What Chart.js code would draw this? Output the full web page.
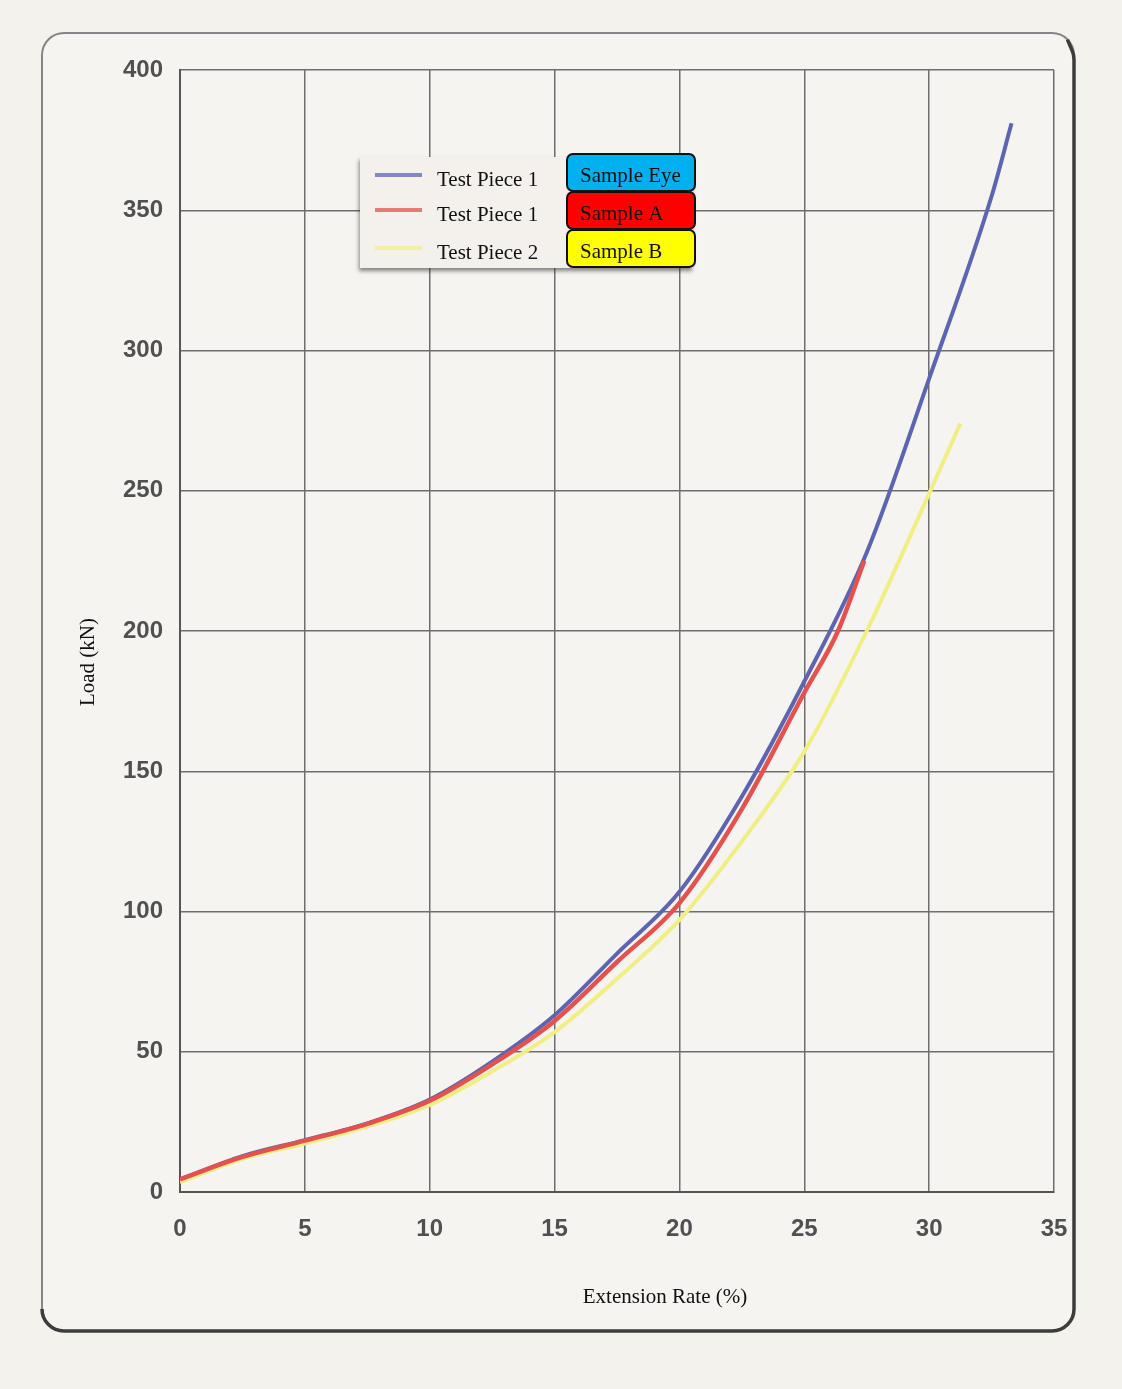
<!DOCTYPE html>
<html>
<head>
<meta charset="utf-8">
<script src="https://cdn.jsdelivr.net/npm/chart.js@4.4.1/dist/chart.umd.min.js"></script>
<style>
  html, body { margin: 0; padding: 0; background: #f3f2ed; }
  #wrap { position: relative; width: 1122px; height: 1389px; }
</style>
</head>
<body>
<div id="wrap"><canvas id="chart"></canvas></div>
<script>
// legend texts
const pieceLabels = ['Test Piece 1', 'Test Piece 1', 'Test Piece 2'];
const sampleNames = ['Sample Eye', 'Sample A', 'Sample B'];
const xTitle = 'Extension Rate (%)';
const yTitle = 'Load (kN)';

// Sample Eye (blue)
const eyeX = [0, 2.5, 5, 7.5, 10, 12.5, 15, 17.5, 20, 22.5, 25, 27.5, 30, 32.5, 33.3];
const eyeY = [4.5, 12.8, 18.5, 24.5, 33, 46.5, 63, 85, 107, 141, 182, 228, 290, 355, 381];

// Sample A (red)
const aX = [0, 2.5, 5, 7.5, 10, 12.5, 15, 17.5, 20, 22.5, 25, 26.35, 27.4];
const aY = [4.5, 12.5, 18.3, 24.3, 32.5, 45.5, 61, 82, 103, 136.5, 178, 200, 225];

// Sample B (yellow)
const bX = [0, 2.5, 5, 7.5, 10, 12.5, 15, 17.5, 20, 22.5, 25, 27.5, 30, 31.25];
const bY = [3.5, 11.8, 17.3, 23.3, 31, 43, 57, 76, 97, 125, 157, 200, 249, 274];

const lineColors = ['#5c65b2', '#e4524f', '#f1ee84'];
const sampleColors = ['#00b0f0', '#ff0000', '#ffff00'];

const toPts = (xs, ys) => xs.map((x, i) => ({ x: x, y: ys[i] }));

const serif = '21px "Liberation Serif", "DejaVu Serif", serif';

const paperPlugin = {
  id: 'paper',
  beforeDraw(chart) {
    const ctx = chart.ctx;
    const L = 42, T = 33, R = 1074, B = 1331, r = 22;
    ctx.save();
    ctx.fillStyle = '#f3f2ed';
    ctx.fillRect(0, 0, chart.width, chart.height);
    ctx.fillStyle = '#f5f4f0';
    ctx.beginPath();
    ctx.roundRect(L, T, R - L, B - T, r);
    ctx.fill();
    ctx.strokeStyle = '#858585';
    ctx.lineWidth = 2;
    ctx.stroke();
    // darker right / bottom edge
    ctx.beginPath();
    ctx.moveTo(R - r * 0.3, T + r * 0.3);
    ctx.arcTo(R, T + r, R, B, r);
    ctx.lineTo(R, B - r);
    ctx.arcTo(R, B, R - r, B, r);
    ctx.lineTo(L + r, B);
    ctx.arcTo(L, B, L, B - r, r);
    ctx.strokeStyle = '#3c3c3c';
    ctx.lineWidth = 3.5;
    ctx.stroke();
    ctx.restore();
  },
  afterDraw(chart) {
    const ctx = chart.ctx;
    ctx.save();
    // axis titles
    ctx.fillStyle = '#111';
    ctx.font = serif;
    ctx.textAlign = 'center';
    ctx.textBaseline = 'middle';
    ctx.fillText(xTitle, 665, 1297);
    ctx.translate(88, 662);
    ctx.rotate(-Math.PI / 2);
    ctx.fillText(yTitle, 0, 0);
    ctx.restore();

    // legend box
    ctx.save();
    ctx.shadowColor = 'rgba(40,40,40,0.55)';
    ctx.shadowOffsetX = -1;
    ctx.shadowOffsetY = 3;
    ctx.shadowBlur = 4;
    ctx.fillStyle = '#f4f1ec';
    ctx.fillRect(360, 157, 333, 111);
    ctx.restore();

    ctx.save();
    const rows = [178, 213, 251];
    const boxTop = [154, 192, 230];
    chart.data.datasets.forEach((ds, i) => {
      const y = rows[i];
      ctx.globalAlpha = 0.75;
      ctx.strokeStyle = ds.borderColor;
      ctx.lineWidth = 4;
      ctx.beginPath();
      ctx.moveTo(375, y - 3);
      ctx.lineTo(422, y - 3);
      ctx.stroke();
      ctx.globalAlpha = 1;
      ctx.fillStyle = '#111';
      ctx.font = serif;
      ctx.textAlign = 'left';
      ctx.textBaseline = 'middle';
      ctx.fillText(ds.label, 437, y + 2);

      ctx.beginPath();
      ctx.roundRect(567, boxTop[i], 128, 37, 6);
      ctx.fillStyle = ds.sampleColor;
      ctx.fill();
      ctx.strokeStyle = '#111';
      ctx.lineWidth = 2;
      ctx.stroke();
      ctx.fillStyle = '#111';
      ctx.fillText(ds.sample, 580, boxTop[i] + 22);
    });
    ctx.restore();
  }
};

const tickFont = { family: '"Liberation Sans", Arial, sans-serif', size: 24, weight: 'bold' };

new Chart(document.getElementById('chart'), {
  type: 'line',
  data: {
    datasets: [
      {
        label: pieceLabels[0], sample: sampleNames[0], sampleColor: sampleColors[0],
        data: toPts(eyeX, eyeY), borderColor: lineColors[0], borderWidth: 4, order: 3
      },
      {
        label: pieceLabels[1], sample: sampleNames[1], sampleColor: sampleColors[1],
        data: toPts(aX, aY), borderColor: lineColors[1], borderWidth: 4.5, order: 1
      },
      {
        label: pieceLabels[2], sample: sampleNames[2], sampleColor: sampleColors[2],
        data: toPts(bX, bY), borderColor: lineColors[2], borderWidth: 4, order: 2
      }
    ]
  },
  options: {
    responsive: true,
    maintainAspectRatio: false,
    animation: false,
    elements: {
      point: { radius: 0, hoverRadius: 0 },
      line: { cubicInterpolationMode: 'monotone', fill: false }
    },
    layout: { padding: { left: 60, top: 70, right: 68, bottom: 69 } },
    scales: {
      x: {
        type: 'linear',
        min: 0, max: 35,
        afterFit: (s) => { s.height = 128; },
        ticks: { stepSize: 5, padding: 23, color: '#505050', font: tickFont },
        grid: { color: '#6e6e6e', lineWidth: 1.5, drawTicks: false },
        border: { display: true, color: '#555', width: 2 }
      },
      y: {
        min: 0, max: 400,
        afterFit: (s) => { s.width = 120; },
        ticks: { stepSize: 50, padding: 17, color: '#505050', font: tickFont },
        grid: { color: '#6e6e6e', lineWidth: 1.5, drawTicks: false },
        border: { display: true, color: '#555', width: 2 }
      }
    },
    plugins: {
      legend: { display: false },
      tooltip: { enabled: false }
    }
  },
  plugins: [paperPlugin]
});
</script>
</body>
</html>
